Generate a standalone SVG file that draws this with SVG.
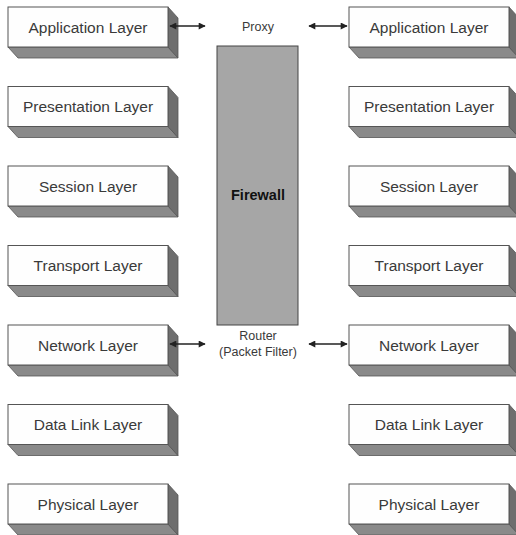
<svg xmlns="http://www.w3.org/2000/svg" width="516" height="535" viewBox="0 0 516 535">
<defs>
<style>
.front{fill:#fefefe;stroke:#555;stroke-width:1}
.side{fill:#6e6e6e;stroke:#555;stroke-width:0.8}
.bottom{fill:#8a8a8a;stroke:#555;stroke-width:0.8}
.lbl{font-family:"Liberation Sans",Arial,sans-serif;font-size:15.5px;fill:#3a3a3a;text-anchor:middle}
.small{font-family:"Liberation Sans",Arial,sans-serif;font-size:12.5px;fill:#3a3a3a;text-anchor:middle}
.conn{stroke:#222;stroke-width:1.5;fill:none;marker-start:url(#ah);marker-end:url(#ah)}
</style>
<marker id="ah" viewBox="0 0 10 10" refX="9" refY="5" markerWidth="9" markerHeight="7" orient="auto-start-reverse" markerUnits="userSpaceOnUse">
<path d="M0,0 L10,5 L0,10 z" fill="#222"/>
</marker>
<g id="box">
<polygon class="bottom" points="0,40 160,40 170,51 10,51"/>
<polygon class="side" points="160,0 170,11 170,51 160,40"/>
<rect class="front" x="0" y="0" width="160" height="40"/>
</g>
</defs>
<g id="firewall">
<rect x="217" y="46" width="81" height="279" fill="#a6a6a6" stroke="#444" stroke-width="1"/>
<text x="258" y="200" font-family="Liberation Sans,Arial,sans-serif" font-size="14.5" font-weight="bold" fill="#111" text-anchor="middle">Firewall</text>
</g>
<g id="proxy"><text class="small" x="258" y="31">Proxy</text></g>
<g id="router"><text class="small" x="258" y="340">Router</text><text class="small" x="258" y="356">(Packet Filter)</text></g>
<g id="left-application"><use href="#box" x="8" y="7"/><text class="lbl" x="88" y="32.5">Application Layer</text></g>
<g id="left-presentation"><use href="#box" x="8" y="86.5"/><text class="lbl" x="88" y="112">Presentation Layer</text></g>
<g id="left-session"><use href="#box" x="8" y="166"/><text class="lbl" x="88" y="191.5">Session Layer</text></g>
<g id="left-transport"><use href="#box" x="8" y="245.5"/><text class="lbl" x="88" y="271">Transport Layer</text></g>
<g id="left-network"><use href="#box" x="8" y="325"/><text class="lbl" x="88" y="350.5">Network Layer</text></g>
<g id="left-datalink"><use href="#box" x="8" y="404.5"/><text class="lbl" x="88" y="430">Data Link Layer</text></g>
<g id="left-physical"><use href="#box" x="8" y="484"/><text class="lbl" x="88" y="509.5">Physical Layer</text></g>
<g id="right-application"><use href="#box" x="349" y="7"/><text class="lbl" x="429" y="32.5">Application Layer</text></g>
<g id="right-presentation"><use href="#box" x="349" y="86.5"/><text class="lbl" x="429" y="112">Presentation Layer</text></g>
<g id="right-session"><use href="#box" x="349" y="166"/><text class="lbl" x="429" y="191.5">Session Layer</text></g>
<g id="right-transport"><use href="#box" x="349" y="245.5"/><text class="lbl" x="429" y="271">Transport Layer</text></g>
<g id="right-network"><use href="#box" x="349" y="325"/><text class="lbl" x="429" y="350.5">Network Layer</text></g>
<g id="right-datalink"><use href="#box" x="349" y="404.5"/><text class="lbl" x="429" y="430">Data Link Layer</text></g>
<g id="right-physical"><use href="#box" x="349" y="484"/><text class="lbl" x="429" y="509.5">Physical Layer</text></g>
<g id="connectors">
<line class="conn" x1="170" y1="26" x2="205" y2="26"/>
<line class="conn" x1="309" y1="26" x2="347" y2="26"/>
<line class="conn" x1="170" y1="344" x2="205" y2="344"/>
<line class="conn" x1="309" y1="344" x2="347" y2="344"/>
</g>
</svg>
